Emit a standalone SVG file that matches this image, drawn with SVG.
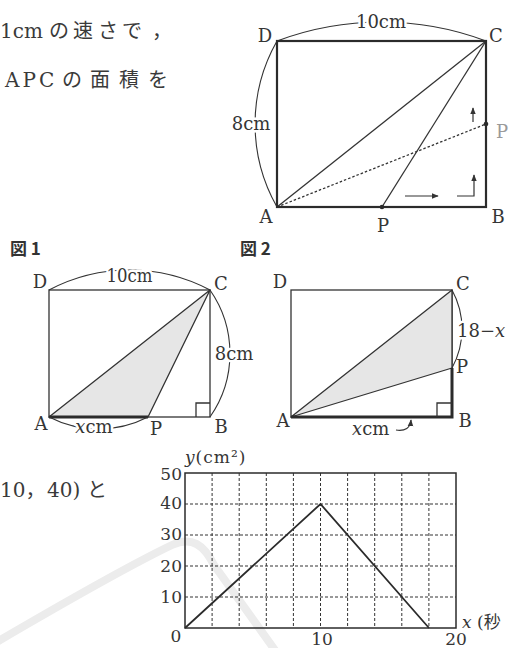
<svg xmlns="http://www.w3.org/2000/svg" width="509" height="648" viewBox="0 0 509 648">
<style>
.t{font-family:"DejaVu Serif","Liberation Serif","Noto Sans CJK JP",serif;fill:#353535}
.j{font-family:"DejaVu Serif","Liberation Serif","Noto Sans CJK JP",serif;fill:#3a3a3a;font-size:20px}
.lb{font-size:18px;text-anchor:middle}
.num{font-size:17px}
.it{font-style:italic}
.halo{paint-order:stroke;stroke:#fff;stroke-width:5px;stroke-linejoin:round}
.fig{font-family:"Noto Sans CJK JP","Noto Sans",sans-serif;font-weight:700;font-size:17px;fill:#333}
.thick{stroke:#2b2b2b;stroke-width:2.2;fill:none}
.bold{stroke:#2b2b2b;stroke-width:3;fill:none}
.thin{stroke:#333;stroke-width:1.3;fill:none}
.arc{stroke:#333;stroke-width:1.1;fill:none}
.dot{fill:#2b2b2b}
.shade{fill:#e6e6e6;stroke:#333;stroke-width:1.3;stroke-linejoin:round}
.grid{stroke:#333;stroke-width:1;stroke-dasharray:3 2;fill:none}
.arrow{stroke:#333;stroke-width:1.2;fill:none;marker-end:url(#ah)}
</style>
<defs>
<marker id="ah" viewBox="0 0 10 10" refX="9" refY="5" markerWidth="7" markerHeight="7" markerUnits="userSpaceOnUse" orient="auto">
<path d="M0 1 L10 5 L0 9 Z" fill="#333"/>
</marker>
</defs>
<rect width="509" height="648" fill="#fff"/>

<!-- watermark -->
<path d="M-5 643 C60 605 130 565 172 545 C192 536 204 545 214 565 L282 660" fill="none" stroke="#ececec" stroke-width="8" stroke-linecap="round"/>

<!-- text fragments -->
<g id="text-left">
<text class="j" x="0" y="38">1cm<tspan x="49">の</tspan><tspan x="73">速</tspan><tspan x="98">さ</tspan><tspan x="122">で</tspan><tspan x="152">，</tspan></text>
<text class="j" x="5" y="87"><tspan letter-spacing="3">APC</tspan><tspan x="62">の</tspan><tspan x="90">面</tspan><tspan x="119">積</tspan><tspan x="148">を</tspan></text>
<text class="j" x="0" y="497">10，<tspan x="47">40)</tspan><tspan x="87">と</tspan></text>
</g>

<!-- top figure -->
<g id="fig-top">
<g id="top-connectors">
<path class="arc" d="M277 41 A297 297 0 0 1 486 41"/>
<path class="arc" d="M277 41 A168 168 0 0 0 277 207"/>
<line class="thin" x1="277" y1="207" x2="486" y2="41"/>
<line class="thin" x1="382" y1="207" x2="486" y2="41"/>
<line class="thin" x1="277" y1="207" x2="486" y2="124" stroke-dasharray="2.5 2"/>
<rect class="thick" x="277" y="41" width="209" height="166"/>
<path class="arrow" d="M473 122 V108"/>
<path class="arrow" d="M405 196 H438"/>
<path class="arrow" d="M457 196 H474 V175"/>
</g>
<circle class="dot" cx="382" cy="207" r="2.3"/>
<circle class="dot" cx="486" cy="124" r="2.3"/>
<text class="t lb halo" x="381" y="28">10cm</text>
<text class="t lb halo" x="251" y="130">8cm</text>
<g id="top-D"><text class="t lb" x="265" y="42">D</text></g>
<g id="top-C"><text class="t lb" x="496" y="42">C</text></g>
<g id="top-A"><text class="t lb" x="266" y="223">A</text></g>
<g id="top-B"><text class="t lb" x="498" y="223">B</text></g>
<g id="top-P"><text class="t lb" x="383" y="232">P</text></g>
<g id="top-P2"><text class="t lb" x="502" y="138" style="fill:#9a9a9a">P</text></g>
</g>

<!-- figure 1 -->
<g id="fig1">
<text class="fig" x="10" y="255">図 1</text>
<g id="fig1-connectors">
<rect class="thin" x="49" y="290" width="161" height="127"/>
<polygon class="shade" points="49,417 148,417 210,290"/>
<line class="bold" x1="49" y1="417" x2="148" y2="417"/>
<path class="thin" d="M196 417 V403 H210"/>
<path class="arc" d="M49 290 A172 172 0 0 1 210 290"/>
<path class="arc" d="M210 290 A111 111 0 0 1 210 417"/>
<path class="arc" d="M49 417 A108 108 0 0 0 148 417"/>
</g>
<text class="t lb halo" x="129.5" y="282" textLength="46" lengthAdjust="spacingAndGlyphs">10cm</text>
<text class="t lb halo" x="234" y="360">8cm</text>
<text class="t lb halo" x="94" y="433"><tspan class="it">x</tspan>cm</text>
<g id="fig1-D"><text class="t lb" x="40" y="288">D</text></g>
<g id="fig1-C"><text class="t lb" x="221" y="290">C</text></g>
<g id="fig1-A"><text class="t lb" x="41" y="430">A</text></g>
<g id="fig1-P"><text class="t lb" x="156" y="435">P</text></g>
<g id="fig1-B"><text class="t lb" x="221" y="433">B</text></g>
</g>

<!-- figure 2 -->
<g id="fig2">
<text class="fig" x="240" y="255">図 2</text>
<g id="fig2-connectors">
<rect class="thin" x="291" y="290" width="161" height="127"/>
<polygon class="shade" points="291,417 452,368 452,290"/>
<path class="bold" d="M291 417 H452 V368"/>
<path class="thin" d="M437 417 V403 H452"/>
<path class="arc" d="M452 290 A81 81 0 0 1 452 368"/>
<path class="arrow" d="M396 430 Q410 432 411 420"/>
</g>
<text class="t halo" x="457" y="337" font-size="18">18−<tspan class="it">x</tspan></text>
<text class="t" x="352" y="435" font-size="18"><tspan class="it">x</tspan>cm</text>
<g id="fig2-D"><text class="t lb" x="280" y="288">D</text></g>
<g id="fig2-C"><text class="t lb" x="463" y="290">C</text></g>
<g id="fig2-P"><text class="t lb" x="462" y="373">P</text></g>
<g id="fig2-A"><text class="t lb" x="283" y="427">A</text></g>
<g id="fig2-B"><text class="t lb" x="465" y="427">B</text></g>
</g>

<!-- graph -->
<g id="graph">
<g id="grid">
<path class="grid" d="M212.1 473V628M239.2 473V628M266.3 473V628M293.4 473V628M320.5 473V628M347.6 473V628M374.7 473V628M401.8 473V628M428.9 473V628"/>
<path class="grid" d="M185 504H456M185 535H456M185 566H456M185 597H456"/>
</g>
<rect x="185" y="473" width="271" height="155" fill="none" stroke="#2b2b2b" stroke-width="1.5"/>
<g id="graph-line"><path d="M185 628 L320.5 504 L429 628" fill="none" stroke="#2b2b2b" stroke-width="1.8"/></g>
<g class="t num" text-anchor="end">
<text x="182" y="480">50</text>
<text x="182" y="509">40</text>
<text x="182" y="540">30</text>
<text x="182" y="572">20</text>
<text x="182" y="603">10</text>
</g>
<text class="t num" x="176" y="642" text-anchor="middle">0</text>
<text class="t num" x="322" y="645" text-anchor="middle">10</text>
<text class="t num" x="456" y="645" text-anchor="middle">20</text>
<text class="t" x="185" y="463" font-size="17" letter-spacing="1"><tspan class="it">y</tspan>(cm²)</text>
<text class="t" x="462" y="628" font-size="17"><tspan class="it">x</tspan> (秒</text>
</g>
</svg>
